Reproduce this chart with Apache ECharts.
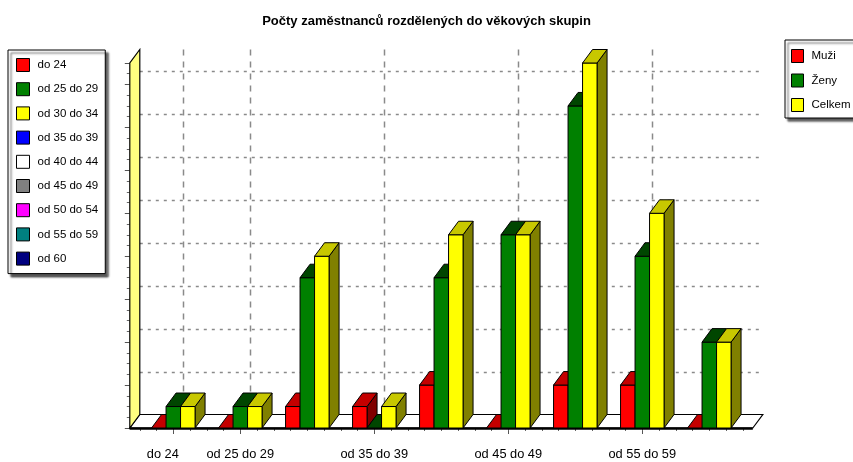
<!DOCTYPE html>
<html>
<head>
<meta charset="utf-8">
<script src="https://cdn.jsdelivr.net/npm/echarts@6/dist/echarts.min.js"></script>
<style>
html,body{margin:0;padding:0;background:#fff;}
#chart{width:853px;height:462px;}
</style>
</head>
<body>
<div id="chart"></div>
<script>
// ---- data ----
const categories = ['do 24','od 25 do 29','od 30 do 34','od 35 do 39','od 40 do 44','od 45 do 49','od 50 do 54','od 55 do 59','od 60'];
const categoryColors = ['#FF0000','#008000','#FFFF00','#0000FF','#FFFFFF','#808080','#FF00FF','#008080','#000080'];
const seriesNames = ['Muži','Ženy','Celkem'];
const muzi   = [0, 0, 1, 1, 2, 0, 2, 2, 0];
const zeny   = [1, 1, 7, 0, 7, 9, 15, 8, 4];
const celkem = [1, 1, 8, 1, 9, 9, 17, 10, 4];
const labelledIdx = [0, 1, 3, 5, 7];
const yGridValues = [2, 4, 6, 8, 10, 12, 14, 16];
const yMax = 17;
const titleText = 'Počty zaměstnanců rozdělených do věkových skupin';

// ---- styles ----
const FONT = "'Liberation Sans',Arial,sans-serif";
const DX = 10, DY = -13.5;      // 3D depth offset
const FLOOR_PAD = 10;
const BAR_W = 14.5;
const faceColors = [
  {front:'#FF0000', top:'#C40000', side:'#800000'},
  {front:'#008000', top:'#004600', side:'#004000'},
  {front:'#FFFF00', top:'#C8C800', side:'#808000'}
];
const seriesValues = [muzi, zeny, celkem];

const chart = echarts.init(document.getElementById('chart'), null, {renderer:'canvas'});

function decorRender(params, api){
  const n = categories.length;
  const c0 = api.coord([0, 0]);
  const bw = api.size([1, 0])[0];
  const y0 = c0[1];
  const yTop = api.coord([0, yMax])[1];
  const xL = c0[0] - bw/2 - FLOOR_PAD;
  const xR = c0[0] + (n-1)*bw + bw/2 + FLOOR_PAD;
  const children = [];
  yGridValues.forEach(v => {
    const y = Math.round(api.coord([0, v])[1] + DY) + 0.5;
    children.push({type:'line', shape:{x1:xL+DX, y1:y, x2:xR+DX, y2:y},
      style:{stroke:'#8a8a8a', lineWidth:1.5, lineDash:[3,5]}});
  });
  labelledIdx.forEach(k => {
    const x = Math.round(api.coord([k, 0])[0] + DX) + 0.5;
    children.push({type:'line', shape:{x1:x, y1:yTop+DY, x2:x, y2:y0+DY},
      style:{stroke:'#8a8a8a', lineWidth:1.5, lineDash:[6,6]}});
  });
  children.push({type:'polygon', shape:{points:[[xL,y0],[xR,y0],[xR+DX,y0+DY],[xL+DX,y0+DY]]},
    style:{fill:'#fff', stroke:'#000', lineWidth:1.2}});
  children.push({type:'line', shape:{x1:xL, y1:y0+0.5, x2:xR, y2:y0+0.5},
    style:{stroke:'#000', lineWidth:2.5}});
  children.push({type:'polygon', shape:{points:[[xL,y0],[xL,yTop],[xL+DX,yTop+DY],[xL+DX,y0+DY]]},
    style:{fill:'#FFFF80', stroke:'#000', lineWidth:1.2}});
  return {type:'group', children};
}

function makeBarRender(s){
  return function(params, api){
    const i = api.value(0), v = api.value(1);
    const base = api.coord([i, 0]);
    const top = api.coord([i, v]);
    const x0 = base[0] + (s - 1.5) * BAR_W;
    const x1 = x0 + BAR_W;
    const y0 = base[1], y1 = top[1];
    const fc = faceColors[s];
    const children = [];
    if (v > 0) {
      children.push({type:'polygon', shape:{points:[[x1,y1],[x1+DX,y1+DY],[x1+DX,y0+DY],[x1,y0]]},
        style:{fill:fc.side, stroke:'#000', lineWidth:1}});
      children.push({type:'rect', shape:{x:x0, y:y1, width:BAR_W, height:y0-y1},
        style:{fill:fc.front, stroke:'#000', lineWidth:1}});
    }
    children.push({type:'polygon', shape:{points:[[x0,y1],[x1,y1],[x1+DX,y1+DY],[x0+DX,y1+DY]]},
      style:{fill:fc.top, stroke:'#000', lineWidth:1}});
    return {type:'group', children};
  };
}

const series = [];
series.push({type:'custom', name:'_decor', coordinateSystem:'cartesian2d', clip:false, silent:true,
  renderItem: decorRender, data:[[0,0]], z:1});
seriesNames.forEach((nm, s) => {
  series.push({type:'custom', name:nm, coordinateSystem:'cartesian2d', clip:false,
    itemStyle:{color:faceColors[s].front},
    renderItem: makeBarRender(s), encode:{x:0, y:1},
    data: categories.map((c, i) => [i, seriesValues[s][i]]), z:2});
});
categories.forEach((c, i) => {
  series.push({type:'custom', name:c, coordinateSystem:'cartesian2d',
    itemStyle:{color:categoryColors[i]}, renderItem: () => null, data:[]});
});

const legendText = {fontFamily:FONT, fontSize:11.5, color:'#000', lineHeight:12, padding:[0,0,0,3]};

chart.setOption({
  backgroundColor:'#fff',
  animation:false,
  title:{text:titleText, left:'center', top:15, padding:0,
    textStyle:{fontFamily:FONT, fontWeight:'bold', fontSize:13, color:'#000'}},
  grid:{left:139.8, right:110.2, top:63, bottom:34, containLabel:false},
  xAxis:[{
    type:'category', data:categories, boundaryGap:true,
    axisLine:{show:false, onZero:false},
    axisTick:{show:true, alignWithLabel:true, length:6, interval:(i)=>labelledIdx.includes(i),
      lineStyle:{color:'#555'}},
    axisLabel:{interval:(i)=>labelledIdx.includes(i), margin:20,
      fontFamily:FONT, fontSize:12.8, color:'#000',
      formatter:(val, idx)=> idx === 0 ? '{first|' + val + '}' : val,
      rich:{first:{fontFamily:FONT, fontSize:12.8, color:'#000', padding:[0,21,0,0]}}},
    splitLine:{show:false}
  },{
    type:'value', min:-0.5, max:8.5, interval:0.25, position:'bottom',
    axisLine:{show:false, onZero:false}, axisLabel:{show:false}, splitLine:{show:false},
    axisTick:{show:true, length:3, lineStyle:{color:'#666'}}
  }],
  yAxis:{
    type:'value', min:0, max:yMax, interval:2, offset:10, position:'left',
    axisLine:{show:false, onZero:false}, axisLabel:{show:false}, splitLine:{show:false},
    axisTick:{show:true, length:5, lineStyle:{color:'#555'}},
    minorTick:{show:true, splitNumber:4, length:3, lineStyle:{color:'#666'}}
  },
  legend:[{
    orient:'vertical', left:8, top:50, data:categories, icon:'rect',
    itemWidth:13, itemHeight:13, itemGap:10.2, padding:[8,7,8,8],
    backgroundColor:'#fff', borderColor:'#000', borderWidth:1,
    shadowColor:'rgba(0,0,0,0.65)', shadowBlur:2, shadowOffsetX:3, shadowOffsetY:3,
    selectedMode:false, textStyle:legendText,
    itemStyle:{borderColor:'#000', borderWidth:1}
  },{
    orient:'vertical', left:785, top:40, data:seriesNames, icon:'rect',
    itemWidth:12, itemHeight:13, itemGap:10.5, padding:[9,8,6,6],
    backgroundColor:'#fff', borderColor:'#000', borderWidth:1,
    shadowColor:'rgba(0,0,0,0.65)', shadowBlur:2, shadowOffsetX:3, shadowOffsetY:3,
    selectedMode:false, textStyle:legendText,
    itemStyle:{borderColor:'#000', borderWidth:1}
  }],
  series: series
});
</script>
</body>
</html>
